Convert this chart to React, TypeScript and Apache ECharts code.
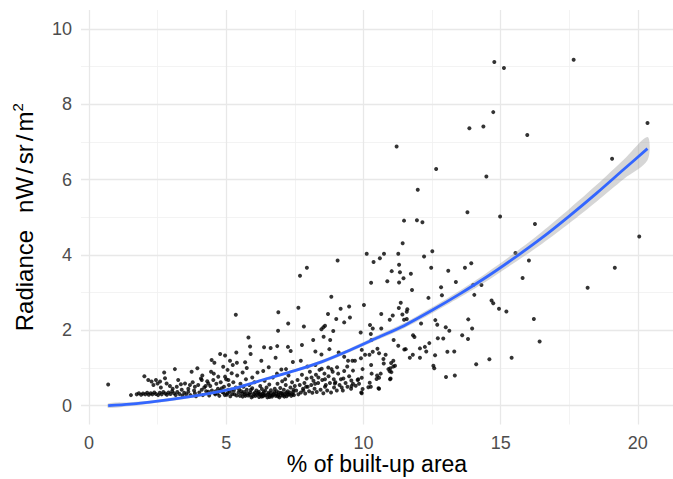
import React, { useEffect, useRef } from "react";
import * as echarts from "echarts";

// ---- data ----
const lowCluster: number[][] = [
  [0.70,0.56],[1.53,0.28],[1.74,0.30],[1.82,0.33],[1.90,0.29],[1.97,0.32],[2.05,0.30],[2.12,0.34],[2.18,0.29],[2.25,0.33],[2.31,0.30],[2.38,0.35],[2.44,0.31],[2.52,0.28],[2.58,0.34],[2.65,0.30],[2.71,0.36],[2.78,0.32],[2.84,0.29],[2.90,0.35],[2.97,0.31],[3.03,0.38],[3.10,0.33],[3.16,0.28],[3.22,0.36],[3.30,0.31],[3.41,0.27],[3.47,0.34],
  [2.02,0.78],[2.16,0.68],[2.28,0.64],[2.44,0.68],[2.50,0.59],[2.59,0.64],[2.77,0.73],[2.83,0.59],[2.74,0.88],[3.13,0.97],[3.25,0.68],[3.35,0.57],[2.35,0.55],[2.62,0.48],[2.95,0.52],[3.05,0.45],[3.20,0.50],[3.38,0.42],[3.50,0.59],
];

const midCluster: number[][] = [
  [3.62,0.37],[3.68,0.55],[3.74,0.90],[3.86,0.50],[3.86,0.33],[3.95,0.99],[4.13,0.80],[4.11,0.68],[4.11,0.42],[4.35,0.59],[4.35,0.37],[4.47,1.21],[4.57,1.14],[4.53,0.68],[4.59,0.33],[4.71,0.77],[4.78,1.37],[4.84,0.46],[4.89,1.03],[4.96,1.33],[4.96,0.77],[5.08,0.68],[5.08,0.42],[5.20,0.86],[5.24,1.08],
  [3.55,0.30],[3.62,0.45],[3.70,0.28],[3.78,0.62],[3.83,0.40],[3.90,0.25],[3.98,0.55],[4.02,0.35],[4.08,0.72],[4.15,0.28],[4.20,0.48],[4.27,0.38],[4.31,0.65],[4.38,0.27],[4.42,0.52],[4.48,0.40],[4.55,0.85],[4.60,0.30],[4.64,0.58],[4.70,0.45],[4.75,0.26],[4.80,0.62],[4.86,0.36],[4.92,0.50],[4.95,0.28],[5.00,0.70],[5.05,0.33],[5.10,0.55],[5.15,0.25],[5.20,0.42],[5.26,0.62],[5.30,0.30],[5.35,0.48],[5.40,0.80],[5.45,0.35],[5.50,0.26],[5.52,0.58],
  [5.55,0.38],[5.60,0.24],[5.63,0.50],[5.68,0.30],[5.72,0.70],[5.75,0.42],[5.80,0.27],[5.84,0.55],[5.88,0.35],[5.92,0.22],[5.95,0.46],[6.00,0.31],[6.03,0.62],[6.07,0.26],[6.10,0.40],[6.14,0.88],[6.17,0.33],[6.20,0.23],[6.24,0.52],[6.27,0.29],[6.30,0.44],[6.34,0.25],[6.37,0.36],[6.40,0.66],[6.44,0.28],[6.47,0.48],[6.50,0.22],[6.54,0.34],[6.57,0.56],[6.60,0.27],[6.63,0.41],[6.67,0.24],[6.70,0.75],[6.73,0.31],[6.77,0.45],[6.80,0.26],[6.84,0.38],[6.87,0.58],[6.90,0.29],[6.94,0.22],[6.97,0.47],[7.00,0.34],[7.04,0.65],[7.07,0.27],[7.10,0.42],[7.14,0.31],[7.17,0.55],[7.20,0.25],[7.24,0.38],[7.27,0.80],[7.30,0.30],[7.34,0.48],[7.37,0.26],[7.40,0.62],[7.44,0.36],[7.47,0.28],[7.50,0.52],
  [4.62,0.38],[4.68,0.32],[4.78,0.40],[4.90,0.34],[5.02,0.29],[5.12,0.37],[5.22,0.31],[5.28,0.40],[5.38,0.27],[5.47,0.43],[5.58,0.32],[5.66,0.36],[5.70,0.26],[5.78,0.33],[5.86,0.29],[5.90,0.42],[5.98,0.25],[6.05,0.35],[6.12,0.29],[6.19,0.37],[6.22,0.30],[6.29,0.24],[6.33,0.32],[6.39,0.28],[6.42,0.40],[6.52,0.30],[6.58,0.23],[6.62,0.33],[6.69,0.28],[6.75,0.36],[6.82,0.30],[6.88,0.25],[6.92,0.35],[6.99,0.27],[7.05,0.32],[7.12,0.24],[7.19,0.34],[7.25,0.29],[7.32,0.35],[7.42,0.30],
  [5.05,0.95],[5.60,0.88],[5.95,0.75],[6.35,0.92],[6.85,0.85],[7.15,0.70],[4.45,0.90],[4.25,0.52],[5.75,1.00],[6.55,1.02],
  [5.14,1.19],[5.39,1.14],[5.69,1.15],[5.37,1.41],[6.28,1.19],[6.80,1.27],[7.18,0.97],[7.01,0.96],[7.43,1.16],[7.45,0.42],
];

const rightCluster: number[][] = [
  [7.55,0.40],[7.60,0.68],[7.63,0.30],[7.68,0.55],[7.72,0.35],[7.76,0.82],[7.80,0.45],[7.85,0.60],[7.88,0.32],[7.93,0.72],[7.97,0.50],[8.02,0.38],[8.05,0.90],[8.10,0.55],[8.14,0.34],[8.18,0.66],[8.22,0.45],[8.27,0.82],[8.30,0.36],[8.35,0.60],[8.40,0.95],[8.44,0.42],[8.50,0.68],[8.54,0.33],[8.58,0.85],[8.63,0.55],[8.68,0.40],[8.73,0.78],[8.78,0.60],[8.82,0.35],[8.88,0.90],[8.93,0.48],[8.98,0.62],[9.03,0.40],[9.08,0.85],[9.13,0.55],[9.18,0.70],[9.25,0.40],[9.30,0.92],[9.35,0.60],[9.42,0.50],[9.48,0.78],[9.55,0.45],[9.62,0.58],
  [7.72,1.19],[7.96,1.04],[8.25,1.08],[8.48,0.98],[8.72,1.01],[8.84,0.97],[9.04,1.02],[9.41,1.04],[9.62,0.93],[9.97,0.97],[8.11,0.75],[8.36,0.75],[8.60,0.70],[8.92,0.70],[9.27,0.72],[9.56,0.67],[8.24,0.58],[8.60,0.50],[8.96,0.59],[9.21,0.48],[9.57,0.52],[9.81,0.70],[7.81,0.40],[7.91,0.50],
  [7.76,1.61],[8.25,1.44],[8.47,1.36],[8.76,1.50],[9.10,1.41],[9.30,1.30],[9.44,1.19],[9.60,1.19],[9.91,1.26],
  [8.83,2.89],[7.63,2.60],[9.17,2.57],[9.48,2.63],[5.35,2.41],[6.90,2.48],[8.71,2.43],[9.01,2.30],[9.51,2.34],[9.30,2.21],[7.26,2.18],[7.83,2.10],[8.60,2.12],[8.47,2.03],[8.90,1.98],[6.89,1.99],[5.81,1.81],[8.17,1.74],[8.55,1.83],[8.79,1.74],[5.87,1.57],[5.89,1.37],[6.38,1.55],[6.62,1.53],[6.86,1.58],[7.25,1.56],[7.35,1.45],[7.69,3.45],[7.94,3.66],[9.06,3.85],[8.54,2.08],
];

const tenToTwelve: number[][] = [
  [11.43,4.31],[10.12,4.03],[10.37,3.81],[10.60,3.91],[10.75,4.03],[11.27,4.03],[11.30,3.74],[11.33,3.54],[11.03,3.57],[11.73,3.50],[10.87,3.30],[11.30,3.27],[11.46,3.38],[10.28,3.26],[11.77,3.07],
  [11.36,2.73],[10.02,2.67],[11.29,2.59],[11.60,2.56],[11.58,2.49],[10.65,2.43],[11.07,2.39],[11.42,2.42],[11.58,2.30],[11.48,2.28],[9.90,1.94],[10.24,2.14],[10.34,2.05],[10.65,2.05],[10.96,2.28],[11.81,1.87],[11.86,1.82],[10.27,1.90],[10.29,1.74],[11.10,1.74],[11.27,1.59],[11.49,1.49],[11.54,1.50],
  [9.94,1.48],[10.06,1.35],[10.22,1.35],[10.34,1.43],[10.51,1.51],[10.57,1.39],[10.73,1.24],[10.81,1.35],[10.74,1.12],[11.09,1.19],[11.15,1.06],[11.01,1.13],[10.91,0.97],[10.96,0.91],[11.02,0.89],[11.69,1.27],[11.80,1.35],
  [9.69,1.19],[10.28,1.08],[9.94,0.74],[9.79,0.68],[10.30,0.85],[10.50,0.80],[10.63,0.85],[10.48,0.71],[10.57,0.74],[10.23,0.61],[10.18,0.49],[9.97,0.44],[9.92,0.35],[10.57,0.45],[10.99,0.72],[9.72,0.53],[9.84,0.58],[10.27,0.50],[10.55,0.46],[10.97,0.70],[10.98,0.99],[11.09,1.04],[9.94,0.33],
];

const upperPoints: number[][] = [
  [14.77,9.12],[15.12,8.96],[17.66,9.18],[14.73,7.79],[13.86,7.36],[14.37,7.41],[15.97,7.18],[20.35,7.50],[12.65,6.28],[19.06,6.55],[14.48,6.08],[11.21,6.88],[11.98,5.73],[13.79,5.13],[14.98,5.02],[12.15,4.87],[11.48,4.91],[11.95,4.92],[16.25,4.82],[20.05,4.49],
  [12.51,4.10],[12.21,3.96],[12.47,3.66],[13.09,3.58],[13.70,3.66],[13.93,3.78],[15.54,4.05],[16.03,3.85],[19.16,3.66],[15.80,3.39],[18.17,3.13],[13.37,3.28],[12.83,3.14],[14.30,3.20],[14.00,3.20],[12.37,2.86],[12.86,2.93],[14.04,2.94],[14.67,2.79],[14.73,2.72],[14.94,2.57],[15.21,2.50],[16.21,2.30],[12.62,2.27],[12.69,2.15],[12.10,2.18],[13.82,2.29],[13.96,2.05],[13.00,2.08],[13.13,1.99],[13.60,1.87],[13.81,1.77],[12.71,1.79],[12.91,1.78],[12.40,1.66],[16.42,1.70],[12.24,1.56],[12.06,1.52],[12.29,1.44],[12.61,1.34],[13.06,1.43],[13.31,1.44],[12.06,1.27],[14.59,1.23],[15.40,1.27],[14.11,1.10],[12.55,1.06],[12.58,0.99],[13.01,0.76],[13.33,0.80],
];

const fitX = [0.7, 1.5, 2.5, 3.5, 4.5, 5.5, 6.5, 7.5, 8.5, 9.5, 10.5, 11.5, 12.5, 13.5, 14.5, 15.5, 16.5, 17.5, 18.5, 19.5, 20.35];
const fitY = [0.00, 0.04, 0.12, 0.22, 0.34, 0.50, 0.72, 0.93, 1.17, 1.47, 1.80, 2.13, 2.53, 2.96, 3.42, 3.92, 4.45, 5.03, 5.64, 6.28, 6.82];
const bandLow = [-0.06, -0.01, 0.08, 0.18, 0.30, 0.46, 0.68, 0.89, 1.12, 1.42, 1.74, 2.06, 2.45, 2.87, 3.31, 3.79, 4.29, 4.84, 5.42, 6.02, 6.51];
const bandHigh = [0.06, 0.09, 0.16, 0.26, 0.38, 0.54, 0.76, 0.97, 1.22, 1.52, 1.86, 2.20, 2.61, 3.05, 3.53, 4.05, 4.61, 5.22, 5.86, 6.54, 7.13];

const xMajor = [0, 5, 10, 15, 20];
const xMinor = [2.5, 7.5, 12.5, 17.5];
const yMajor = [0, 2, 4, 6, 8, 10];
const yMinor = [1, 3, 5, 7, 9];

const FONT = "'Liberation Sans', Arial, Helvetica, sans-serif";

export default function App() {
  const ref = useRef<HTMLDivElement>(null);
  useEffect(() => {
    if (!ref.current) return;
    const chart = echarts.init(ref.current, null, { renderer: "svg" });
    const points = [...lowCluster, ...midCluster, ...rightCluster, ...tenToTwelve, ...upperPoints];
    const xRange = { min: -0.29, max: 21.28 };
    const yRange = { min: -0.5, max: 10.5 };
    const majorLine = { show: true, lineStyle: { color: "#e8e8e8", width: 1.3 } };
    const minorLine = { show: true, lineStyle: { color: "#f0f0f0", width: 0.8 } };
    chart.setOption({
      animation: false,
      backgroundColor: "#ffffff",
      textStyle: { fontFamily: FONT },
      grid: { left: 81, right: 0, top: 10, bottom: 54.5, containLabel: false, outerBoundsMode: "none" },
      xAxis: [
        {
          type: "value", ...xRange,
          axisLine: { show: false, onZero: false },
          axisTick: { show: false, customValues: xMajor },
          axisLabel: { customValues: xMajor, color: "#4d4d4d", fontSize: 18, margin: 9, fontFamily: FONT },
          splitLine: majorLine,
          name: "% of built-up area",
          nameLocation: "middle",
          nameGap: 28,
          nameMoveOverlap: false,
          nameTextStyle: { color: "#000000", fontSize: 23, lineHeight: 23, fontFamily: FONT },
          z: 1,
        },
        {
          type: "value", ...xRange,
          axisLine: { show: false, onZero: false },
          axisTick: { show: false, customValues: xMinor },
          axisLabel: { show: false },
          splitLine: minorLine,
          z: 0,
        },
      ],
      yAxis: [
        {
          type: "value", ...yRange,
          axisLine: { show: false, onZero: false },
          axisTick: { show: false, customValues: yMajor },
          axisLabel: { customValues: yMajor, color: "#4d4d4d", fontSize: 18, margin: 9, fontFamily: FONT },
          splitLine: majorLine,
          name: "{a|Radiance}{g|}{a|nW}{s|/}{a|sr}{s|/}{a|m}{sup|2}",
          nameLocation: "middle",
          nameGap: 43,
          nameMoveOverlap: false,
          nameTextStyle: {
            color: "#000000", fontSize: 24, fontFamily: FONT,
            rich: {
              a: { fontSize: 24, color: "#000000", fontFamily: FONT, lineHeight: 28 },
              g: { width: 17, fontSize: 24 },
              s: { fontSize: 24, color: "#000000", fontFamily: FONT, padding: [0, 3, 0, 3], lineHeight: 28 },
              sup: { fontSize: 15, color: "#000000", fontFamily: FONT, verticalAlign: "top", lineHeight: 15 },
            },
          },
          z: 1,
        },
        {
          type: "value", ...yRange,
          position: "left",
          axisLine: { show: false, onZero: false },
          axisTick: { show: false, customValues: yMinor },
          axisLabel: { show: false },
          splitLine: minorLine,
          z: 0,
        },
      ],
      series: [
        {
          type: "scatter",
          data: points,
          symbolSize: 4,
          itemStyle: { color: "#000000" },
          silent: true,
          z: 2,
        },
        {
          type: "custom",
          data: [[fitX[0], fitY[0]]],
          silent: true,
          z: 3,
          renderItem: (_params: any, api: any) => {
            const upper = fitX.map((x, i) => api.coord([x, bandHigh[i]]));
            const lower = fitX.map((x, i) => api.coord([x, bandLow[i]])).reverse();
            return {
              type: "polygon",
              shape: { points: [...upper, ...lower], smooth: 0.3 },
              style: { fill: "rgba(153,153,153,0.4)", stroke: "none" },
            };
          },
        },
        {
          type: "line",
          data: fitX.map((x, i) => [x, fitY[i]]),
          showSymbol: false,
          smooth: 0.3,
          lineStyle: { color: "#3366ff", width: 2.8 },
          silent: true,
          z: 4,
        },
      ],
    });
    return () => chart.dispose();
  }, []);
  return (
    <div
      ref={ref}
      style={{ position: "absolute", left: 0, top: 0, width: 673, height: 479, background: "#fff" }}
    />
  );
}
